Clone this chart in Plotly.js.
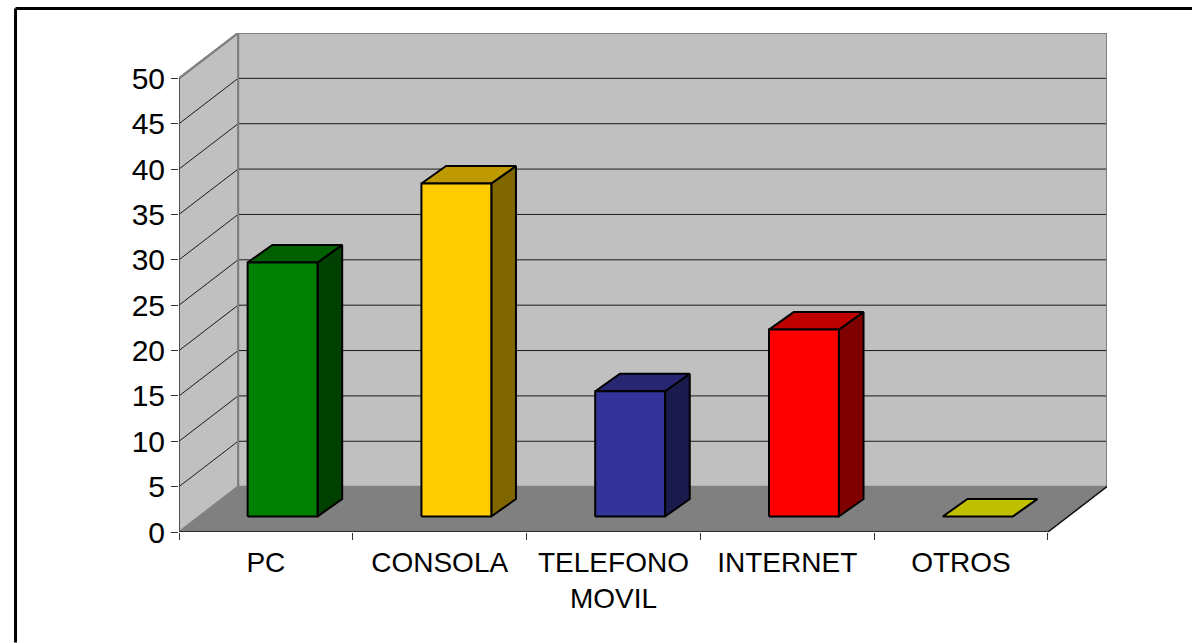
<!DOCTYPE html>
<html>
<head>
<meta charset="utf-8">
<script src="https://cdn.plot.ly/plotly-3.0.1.min.js"></script>
<style>html,body{margin:0;padding:0;background:#fff;overflow:hidden}#chart{width:1192px;height:643px}</style>
</head>
<body>
<div id="chart"></div>
<script>
const categories = ["PC", "CONSOLA", "TELEFONO<br>MOVIL", "INTERNET", "OTROS"];
const values = [28, 36.7, 13.8, 20.6, 0];
const frontColors = ["#008000", "#FFCC00", "#333399", "#FF0000", "#C0C000"];
const topColors = ["#006000", "#BF9900", "#262673", "#BF0000", "#C0C000"];
const sideColors = ["#004000", "#806600", "#1A1A4D", "#800000", "#606000"];
const yTicks = [0, 5, 10, 15, 20, 25, 30, 35, 40, 45, 50];

const yMax = 50;
const nCat = categories.length;
const wallDx = 0.34;
const wallDy = 5;
const barLeft = 0.395;
const barWidth = 0.402;
const barDepthX = 0.142;
const barDepthY = 1.93;
const barFrontY = 1.71;

const traces = [];
function poly(xs, ys, fill, lineColor, lineWidth) {
  traces.push({
    type: "scatter", mode: "lines", x: xs, y: ys, fill: fill ? "toself" : "none",
    fillcolor: fill || undefined, cliponaxis: false,
    line: {color: lineColor, width: lineWidth, simplify: false},
    hoverinfo: "skip", showlegend: false, xaxis: "x", yaxis: "y"
  });
}

poly([wallDx, nCat + wallDx, nCat + wallDx, wallDx, wallDx],
     [wallDy, wallDy, yMax + wallDy, yMax + wallDy, wallDy], "#C0C0C0", "#808080", 2);
poly([0, wallDx, wallDx, 0, 0], [0, wallDy, yMax + wallDy, yMax, 0], "#C0C0C0", "#808080", 2);
poly([0, nCat, nCat + wallDx, wallDx, 0], [0, 0, wallDy, wallDy, 0], "#808080", "#808080", 1);

yTicks.forEach(t => {
  if (t > 0) poly([0, wallDx, nCat + wallDx], [t, t + wallDy, t + wallDy], null, "#1a1a1a", 1);
});
poly([wallDx, wallDx], [wallDy, yMax + wallDy], null, "#808080", 2);
poly([nCat + wallDx, nCat + wallDx, wallDx], [wallDy, yMax + wallDy, yMax + wallDy], null, "#808080", 2);
poly([0, wallDx], [yMax, yMax + wallDy], null, "#808080", 2);
poly([0, 0], [0, yMax], null, "#404040", 1.5);
poly([0, nCat, nCat + wallDx], [0, 0, wallDy], null, "#111111", 1.5);

values.forEach((v, i) => {
  const x0 = i + barLeft, x1 = x0 + barWidth;
  const y0 = barFrontY, y1 = barFrontY + v;
  const dx = barDepthX, dy = barDepthY;
  poly([x1, x1 + dx, x1 + dx, x1, x1], [y0, y0 + dy, y1 + dy, y1, y0], sideColors[i], "#000", 2);
  poly([x0, x1, x1 + dx, x0 + dx, x0], [y1, y1, y1 + dy, y1 + dy, y1], topColors[i], "#000", 2);
  if (v > 0) poly([x0, x1, x1, x0, x0], [y0, y0, y1, y1, y0], frontColors[i], "#000", 2);
});

const W = 1192, H = 643;
const L = 178.5, R = 1106.7, T = 33, B = 532.5;
const pw = R - L, ph = B - T;
const layout = {
  width: W, height: H, paper_bgcolor: "#fff", plot_bgcolor: "rgba(0,0,0,0)",
  margin: {l: L, r: W - R, t: T, b: H - B, pad: 0},
  font: {family: "Liberation Sans, Arial, sans-serif", color: "#000"},
  xaxis: {
    range: [0, nCat + wallDx], tickmode: "array",
    tickvals: categories.map((c, i) => i + 0.5), ticktext: categories,
    ticks: "outside", ticklen: 0, tickwidth: 0, showgrid: false, zeroline: false, showline: false,
    tickangle: 0, tickfont: {size: 28, family: "Liberation Sans, Arial, sans-serif", color: "#000"},
    ticklabelstandoff: 5, fixedrange: true, automargin: false
  },
  xaxis2: {
    range: [0, nCat + wallDx], overlaying: "x", anchor: "y", side: "bottom", tickmode: "array",
    tickvals: categories.map((c, i) => i).concat([nCat]), showticklabels: false,
    ticks: "outside", ticklen: 7, tickwidth: 1, tickcolor: "#333",
    showgrid: false, zeroline: false, showline: false, fixedrange: true
  },
  yaxis: {
    range: [0, yMax + wallDy], tickmode: "array", tickvals: yTicks, ticktext: yTicks.map(String),
    ticks: "outside", ticklen: 7, tickwidth: 1, tickcolor: "#333",
    showgrid: false, zeroline: false, showline: false,
    tickfont: {size: 30, family: "Liberation Sans, Arial, sans-serif", color: "#000"},
    fixedrange: true, automargin: false
  },
  shapes: [
    {type: "line", xref: "paper", yref: "paper", layer: "above",
      x0: (15 - L) / pw, x1: (W - L) / pw, y0: (B - 8.5) / ph, y1: (B - 8.5) / ph,
      line: {color: "#000", width: 3}},
    {type: "line", xref: "paper", yref: "paper", layer: "above",
      x0: (15 - L) / pw, x1: (15 - L) / pw, y0: (B - 8.5) / ph, y1: (B - H) / ph,
      line: {color: "#000", width: 3}}
  ]
};
traces.push({type: "scatter", mode: "none", x: [0], y: [0], xaxis: "x2", yaxis: "y", hoverinfo: "skip", showlegend: false});
Plotly.newPlot("chart", traces, layout, {displayModeBar: false, staticPlot: true});
</script>
</body>
</html>
